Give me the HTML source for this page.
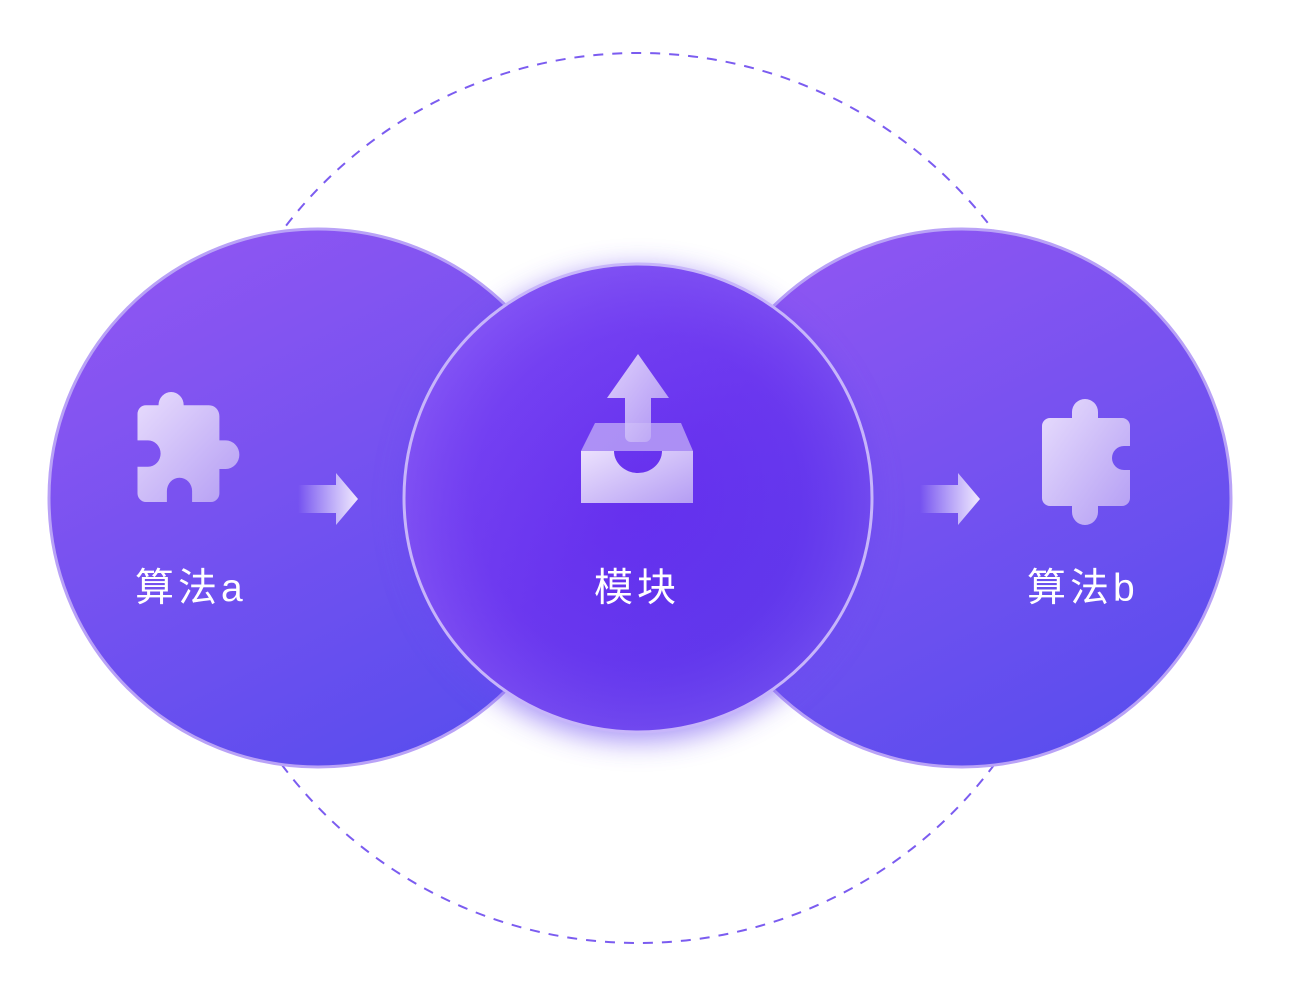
<!DOCTYPE html>
<html><head><meta charset="utf-8"><style>
html,body{margin:0;padding:0;background:#fff;}
svg{display:block}
text{font-family:"Liberation Sans","Noto Sans CJK SC",sans-serif;fill:#fff;font-size:39px;letter-spacing:4px;}
</style></head><body>
<svg width="1290" height="986" viewBox="0 0 1290 986" xmlns="http://www.w3.org/2000/svg">
<defs>
<linearGradient id="gl" x1="0.2" y1="0" x2="0.7" y2="1">
<stop offset="0" stop-color="#9056f2"/><stop offset="1" stop-color="#5a4dee"/></linearGradient>
<linearGradient id="gm" x1="0" y1="0" x2="1" y2="1">
<stop offset="0" stop-color="#7a44f5"/><stop offset="0.5" stop-color="#6630ee"/><stop offset="1" stop-color="#4f2fe8"/></linearGradient>
<radialGradient id="gmh" cx="0.5" cy="0.5" r="0.5">
<stop offset="0" stop-color="#7d5af4" stop-opacity="0"/><stop offset="0.7" stop-color="#8a62f4" stop-opacity="0.15"/><stop offset="1" stop-color="#9a78f6" stop-opacity="0.35"/></radialGradient>
<linearGradient id="gi" x1="0" y1="0" x2="1" y2="1">
<stop offset="0" stop-color="#f2eafe"/><stop offset="1" stop-color="#b9a3f4"/></linearGradient>
<linearGradient id="ga" x1="0" y1="0" x2="1" y2="0">
<stop offset="0" stop-color="#fff" stop-opacity="0"/><stop offset="1" stop-color="#f0e8ff"/></linearGradient>
<filter id="sh" x="-30%" y="-30%" width="160%" height="160%"><feGaussianBlur stdDeviation="14"/></filter>
</defs>
<circle cx="638" cy="498" r="445" fill="none" stroke="#7b5cf0" stroke-width="2" stroke-dasharray="10 9"/>
<circle cx="318" cy="498" r="269" fill="url(#gl)" stroke="#b9a2f7" stroke-width="3"/>
<circle cx="962" cy="498" r="269" fill="url(#gl)" stroke="#b9a2f7" stroke-width="3"/>
<circle cx="638" cy="505" r="236" fill="#6a4af0" opacity="0.6" filter="url(#sh)"/>
<circle cx="638" cy="498" r="234" fill="url(#gm)"/>
<circle cx="638" cy="498" r="234" fill="url(#gmh)" stroke="#c7b5fa" stroke-width="3"/>
<g transform="translate(127 392) scale(1.05 1.1) translate(-137 -402)">
<path d="M145 414 h22 a12 12 0 0 1 24 0 v0 h24 a10 10 0 0 1 10 10 v22 h6 a13 13 0 0 1 0 26 h-6 v22 a8 8 0 0 1 -8 8 h-18 v-10 a12 12 0 0 0 -24 0 v10 h-20 a8 8 0 0 1 -8 -8 v-24 h10 a12 12 0 0 0 0 -24 h-10 v-24 a8 8 0 0 1 8 -8z" fill="url(#gi)" opacity="0.92"/>
</g>
<path d="M298 485 h38 v-12 l22 26 l-22 26 v-12 h-38 z" fill="url(#ga)"/>
<path d="M920 485 h38 v-12 l22 26 l-22 26 v-12 h-38 z" fill="url(#ga)"/>
<path d="M595 423 h86 l12 28 h-112z" fill="#c9b6f8" opacity="0.7"/>
<path d="M581 451 h33 a24 22 0 0 0 48 0 h31 v52 h-112z" fill="url(#gi)" opacity="0.95"/>
<path d="M638 354 l31 44 h-18 v38 a6 6 0 0 1 -6 6 h-14 a6 6 0 0 1 -6 -6 v-38 h-18z" fill="url(#gi)" opacity="0.85"/>
<path d="M1050 418 h22 v-6 a13 13 0 0 1 26 0 v6 h24 a8 8 0 0 1 8 8 v20 h-6 a12 12 0 0 0 0 24 h6 v28 a8 8 0 0 1 -8 8 h-24 v6 a13 13 0 0 1 -26 0 v-6 h-22 a8 8 0 0 1 -8 -8 v-72 a8 8 0 0 1 8 -8z" fill="url(#gi)" opacity="0.92"/>
<text x="135" y="601">算法a</text>
<text x="594" y="601">模块</text>
<text x="1027" y="601">算法b</text>
</svg>
</body></html>
